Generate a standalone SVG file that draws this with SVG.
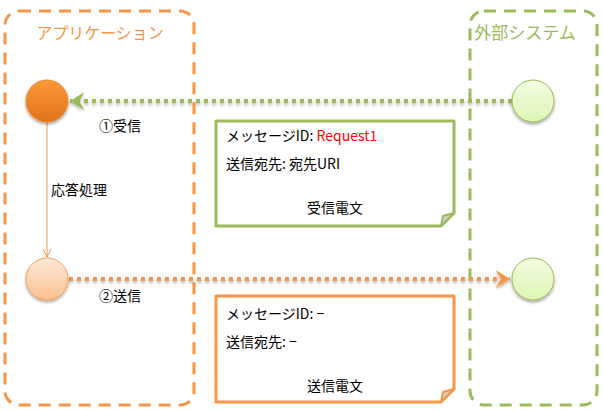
<svg xmlns="http://www.w3.org/2000/svg" width="603" height="411" viewBox="0 0 603 411">
<style>
text{font-family:"Noto Sans CJK JP","Liberation Sans",sans-serif;font-size:14px;fill:#000}
.title{font-size:16px}
.frameO{fill:none;stroke:#F79646;stroke-width:3;stroke-dasharray:12 8}
.frameG{fill:none;stroke:#9BBB59;stroke-width:3;stroke-dasharray:12 8}
.note{fill:#fff;stroke-width:3;stroke-linejoin:round}
.fold{fill:#D0D0D0;stroke-width:2;stroke-linejoin:round}
</style>
<defs>
<linearGradient id="gO" x1="0" y1="0" x2="0" y2="1"><stop offset="0" stop-color="#FA9A3A"/><stop offset="1" stop-color="#E0721A"/></linearGradient>
<linearGradient id="gLO" x1="0" y1="0" x2="0" y2="1"><stop offset="0" stop-color="#FEEADA"/><stop offset="1" stop-color="#FBC090"/></linearGradient>
<linearGradient id="gG" x1="0" y1="0" x2="0" y2="1"><stop offset="0" stop-color="#F3FCE2"/><stop offset="1" stop-color="#DDF5B3"/></linearGradient>
<filter id="sh" x="-30%" y="-30%" width="160%" height="170%"><feDropShadow dx="0" dy="2" stdDeviation="1.5" flood-color="#000" flood-opacity="0.35"/></filter>
<filter id="shL" filterUnits="userSpaceOnUse" x="0" y="0" width="603" height="411"><feDropShadow dx="0" dy="2" stdDeviation="1.5" flood-color="#000" flood-opacity="0.3"/></filter>
<marker id="aG" viewBox="0 0 10 10" refX="8" refY="5" markerWidth="4.5" markerHeight="4.5" orient="auto" markerUnits="strokeWidth"><path d="M0,0 L8,5 L0,10 L3,5 Z" fill="#9BBB59"/></marker>
<marker id="aO" viewBox="0 0 10 10" refX="8" refY="5" markerWidth="4.5" markerHeight="4.5" orient="auto" markerUnits="strokeWidth"><path d="M0,0 L8,5 L0,10 L3,5 Z" fill="#F79646"/></marker>
<marker id="aT" viewBox="0 0 10 10" refX="9" refY="5" markerWidth="10" markerHeight="10" orient="auto" markerUnits="userSpaceOnUse"><path d="M1,1 L9,5 L1,9" fill="none" stroke="#F79646" stroke-width="1"/></marker>
</defs>

<g id="frame-app">
<rect class="frameO" x="5" y="11" width="189" height="394" rx="14"/>
<text class="title" x="100" y="39" text-anchor="middle" style="fill:#F79646">アプリケーション</text>
</g>
<g id="frame-ext">
<rect class="frameG" x="470" y="11" width="127" height="394" rx="14"/>
<text class="title" x="525" y="39" text-anchor="middle" style="fill:#9BBB59;font-size:17px">外部システム</text>
</g>

<g id="connectors">
<path d="M512,101 H70" fill="none" stroke="#9BBB59" stroke-width="4" stroke-dasharray="4 4" marker-end="url(#aG)" filter="url(#shL)"/>
<path d="M69,279 H510" fill="none" stroke="#F79646" stroke-width="4" stroke-dasharray="4 4" marker-end="url(#aO)" filter="url(#shL)"/>
<line x1="47" y1="122" x2="47" y2="257" stroke="#F79646" stroke-width="1" marker-end="url(#aT)"/>
<text x="99" y="131">①受信</text>
<text x="99" y="301">②送信</text>
<text x="51" y="195">応答処理</text>
</g>

<g id="node-app-recv"><circle cx="47" cy="101" r="21" fill="url(#gO)" stroke="#F08A30" stroke-width="1" filter="url(#sh)"/></g>
<g id="node-app-send"><circle cx="47" cy="279" r="21" fill="url(#gLO)" stroke="#F5A060" stroke-width="1" filter="url(#sh)"/></g>
<g id="node-ext-send"><circle cx="533" cy="101" r="21" fill="url(#gG)" stroke="#9BBB59" stroke-width="1" filter="url(#sh)"/></g>
<g id="node-ext-recv"><circle cx="533" cy="279" r="21" fill="url(#gG)" stroke="#9BBB59" stroke-width="1" filter="url(#sh)"/></g>

<g id="note-recv">
<path class="note" stroke="#9BBB59" d="M216,121 H454 V213 L441,226 H216 Z"/>
<path class="fold" stroke="#9BBB59" d="M454,213 L441,226 L443,216 Z"/>
<text x="226" y="141">メッセージID: <tspan style="fill:#FF0000">Request1</tspan></text>
<text x="226" y="169">送信宛先: 宛先URI</text>
<text x="335" y="213" text-anchor="middle">受信電文</text>
</g>

<g id="note-send">
<path class="note" stroke="#F79646" d="M216,296 H454 V389 L441,402 H216 Z"/>
<path class="fold" stroke="#F79646" d="M454,389 L441,402 L443,392 Z"/>
<text x="226" y="319">メッセージID: −</text>
<text x="226" y="347">送信宛先: −</text>
<text x="335" y="391" text-anchor="middle">送信電文</text>
</g>
</svg>
